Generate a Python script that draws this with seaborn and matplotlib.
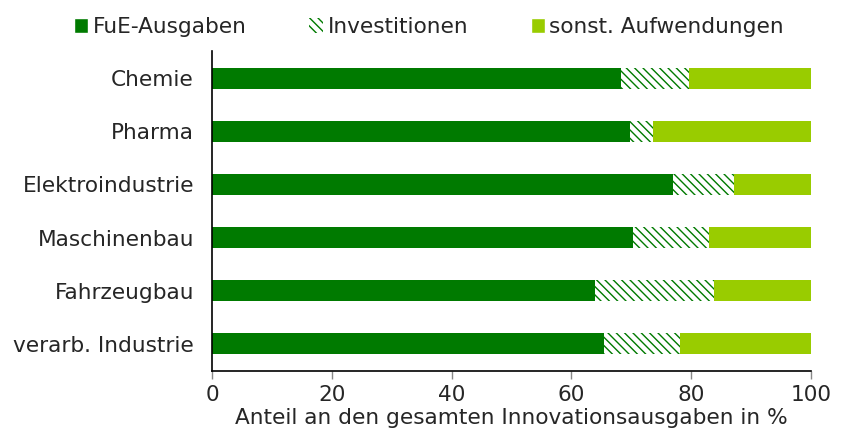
import pandas as pd
import seaborn as sns
import matplotlib.pyplot as plt
from matplotlib.patches import Patch

# shares of total innovation expenditure in %
branchen = ["Chemie", "Pharma", "Elektroindustrie", "Maschinenbau", "Fahrzeugbau", "verarb. Industrie"]
fue = [68.3, 69.8, 77.0, 70.2, 64.0, 65.5]
investitionen = [11.3, 3.9, 10.2, 12.8, 19.8, 12.6]
sonstige = [20.4, 26.3, 12.8, 17.0, 16.2, 21.9]

df = pd.DataFrame({"Branche": branchen, "FuE": fue, "Invest": investitionen, "Sonst": sonstige})
df["cum_invest"] = df["FuE"] + df["Invest"]
df["cum_total"] = df["cum_invest"] + df["Sonst"]

dunkelgruen = "#007A00"
hellgruen = "#99CC00"
schrift = 15.6

sns.set_style("white")
plt.rcParams["font.family"] = ["Verdana", "DejaVu Sans"]
plt.rcParams["hatch.linewidth"] = 1.0

fig = plt.figure(figsize=(8.42, 4.37), dpi=100)
ax = fig.add_axes([0.2518, 0.1506, 0.7114, 0.7332])

# layered bars: total first, then cumulative invest, then FuE on top
sns.barplot(data=df, x="cum_total", y="Branche", orient="h", color=hellgruen,
            width=0.4, linewidth=0, saturation=1, ax=ax)
n = len(ax.patches)
sns.barplot(data=df, x="cum_invest", y="Branche", orient="h", color="white",
            width=0.4, linewidth=0, saturation=1, ax=ax)
for p in ax.patches[n:]:
    p.set_hatch("\\\\\\\\")
    p.set_edgecolor(dunkelgruen)
    p.set_linewidth(0)
sns.barplot(data=df, x="FuE", y="Branche", orient="h", color=dunkelgruen,
            width=0.4, linewidth=0, saturation=1, ax=ax)

ax.set_xlim(0, 100)
ax.set_ylim(5.52, -0.52)
ax.set_xticks([0, 20, 40, 60, 80, 100])
ax.set_xlabel("Anteil an den gesamten Innovationsausgaben in %", fontsize=schrift, labelpad=2)
ax.set_ylabel("")
ax.tick_params(axis="x", labelsize=schrift, length=6, width=1, color="#888888", direction="out", pad=4, bottom=True)
ax.tick_params(axis="y", labelsize=schrift, length=0, pad=13)
for s in ["top", "right"]:
    ax.spines[s].set_visible(False)
for s in ["left", "bottom"]:
    ax.spines[s].set_color("black")
    ax.spines[s].set_linewidth(1.2)

handles = [Patch(facecolor=dunkelgruen, label="FuE-Ausgaben"),
           Patch(facecolor="white", edgecolor=dunkelgruen, hatch="\\\\\\\\", linewidth=0, label="Investitionen"),
           Patch(facecolor=hellgruen, label="sonst. Aufwendungen")]
fig.legend(handles=handles, loc="center", bbox_to_anchor=(0.5095, 0.938), ncol=3, frameon=False,
           fontsize=schrift, handlelength=0.65, handleheight=0.65, handletextpad=0.2, columnspacing=2.9)

fig.savefig("out.png", dpi=100)
